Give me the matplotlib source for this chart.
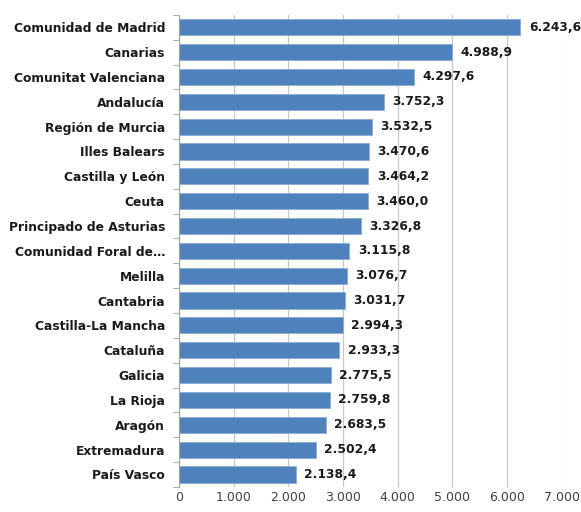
import matplotlib
matplotlib.use("Agg")
import matplotlib.pyplot as plt
from matplotlib.ticker import FuncFormatter

categories = ["Comunidad de Madrid", "Canarias", "Comunitat Valenciana", "Andalucía",
              "Región de Murcia", "Illes Balears", "Castilla y León", "Ceuta",
              "Principado de Asturias", "Comunidad Foral de…", "Melilla", "Cantabria",
              "Castilla-La Mancha", "Cataluña", "Galicia", "La Rioja", "Aragón",
              "Extremadura", "País Vasco"]
values = [6243.6, 4988.9, 4297.6, 3752.3, 3532.5, 3470.6, 3464.2, 3460.0, 3326.8,
          3115.8, 3076.7, 3031.7, 2994.3, 2933.3, 2775.5, 2759.8, 2683.5, 2502.4, 2138.4]
xticks = [0, 1000, 2000, 3000, 4000, 5000, 6000, 7000]

plt.rcParams['font.family'] = ['DejaVu Sans']

def es(v, dec):
    s = f"{v:,.{dec}f}"
    return s.replace(",", "X").replace(".", ",").replace("X", ".")

fig = plt.figure(figsize=(5.81, 5.12), dpi=100)
ax = fig.add_axes([0.308, 0.049, 0.659, 0.922])
ypos = list(range(len(categories)))
ax.barh(ypos, values, height=0.65, color="#4F81BD", edgecolor="#8AAED6", linewidth=0.6, zorder=2)
for y, v in zip(ypos, values):
    ax.annotate(es(v, 1), (v, y), xytext=(6, 0), textcoords="offset points",
                va="center", ha="left", fontsize=8.8, fontweight="bold", color="#1a1a1a")
ax.set_yticks(ypos)
ax.set_yticklabels(categories, fontsize=8.8, fontweight="bold", color="#1a1a1a")
ax.set_ylim(len(categories) - 0.5, -0.5)
ax.set_xlim(0, 7000)
ax.set_xticks(xticks)
ax.xaxis.set_major_formatter(FuncFormatter(lambda v, p: es(v, 0)))
ax.tick_params(axis="x", length=0, labelsize=9, labelcolor="#404040", pad=3)
ax.set_yticks([i + 0.5 for i in range(-1, len(categories))], minor=True)
ax.tick_params(axis="y", which="minor", length=4, color="#A0A0A0")
ax.tick_params(axis="y", which="major", length=0, pad=10)
ax.grid(axis="x", color="#C8C8C8", linewidth=0.9, zorder=0)
for s in ["top", "right", "bottom"]:
    ax.spines[s].set_visible(False)
ax.spines["left"].set_color("#A0A0A0")
fig.savefig("out.png", dpi=100)
